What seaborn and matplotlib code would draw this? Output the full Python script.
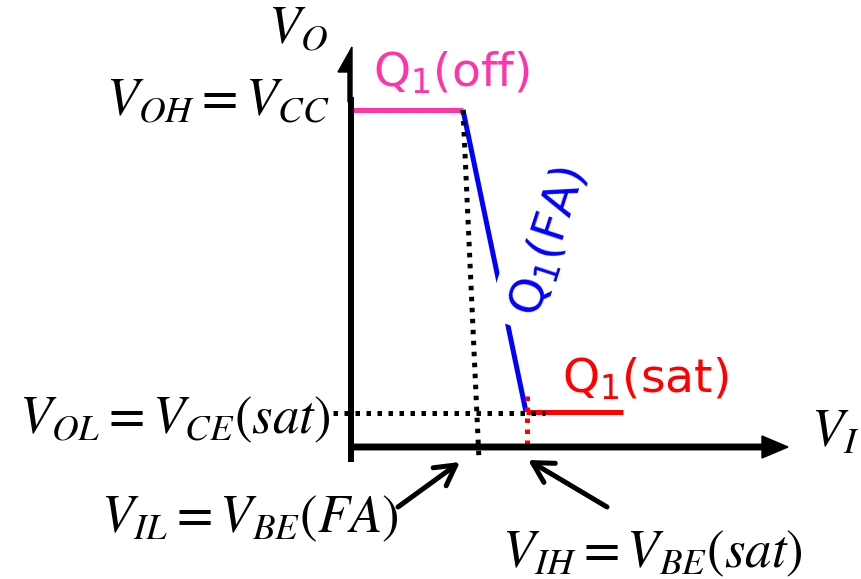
import matplotlib
matplotlib.use("Agg")
import matplotlib.pyplot as plt
import pandas as pd
import seaborn as sns

# Piecewise-linear voltage transfer characteristic (schematic units)
vin_pts = [0.0, 1.11, 1.74, 2.71]
vout_pts = [3.37, 3.37, 0.35, 0.35]
states = ["off", "FA", "sat"]
state_colors = ["#ff33aa", "#0000ff", "#ff0000"]

# Dotted projection guides
vil_guide_x = [1.11, 1.27]
vil_guide_y = [3.37, -0.13]
vol_guide_x = [-0.19, 1.93]
vol_guide_y = [0.34, 0.34]
vih_guide_x = [1.75, 1.75]
vih_guide_y = [0.51, -0.04]

# Label texts
vo_label = r"$V_O$"
vi_label = r"$V_I$"
voh_label = r"$V_{OH}=V_{CC}$"
vol_label = r"$V_{OL}=V_{CE}(sat)$"
vil_label = r"$V_{IL}=V_{BE}(FA)$"
vih_label = r"$V_{IH}=V_{BE}(sat)$"
state_labels = ["Q$_1$(off)", "Q$_1$(FA)", "Q$_1$(sat)"]

sns.set_theme(style="white")
plt.rcParams["font.family"] = ["DejaVu Sans"]

fig = plt.figure(figsize=(8.61, 5.79), dpi=100)
ax = fig.add_axes([0, 0, 1, 1])
ax.set_xlim(-3.52, 5.09)
ax.set_ylim(-1.32, 4.47)
ax.axis("off")

# transfer curve, one coloured segment per transistor state
rows = []
for i, s in enumerate(states):
    rows.append((s, vin_pts[i], vout_pts[i]))
    rows.append((s, vin_pts[i + 1], vout_pts[i + 1]))
df = pd.DataFrame(rows, columns=["state", "vin", "vout"])
sns.lineplot(data=df, x="vin", y="vout", hue="state", hue_order=states,
             palette=state_colors, estimator=None, sort=False, units="state",
             linewidth=3.6, legend=False, ax=ax, solid_capstyle="butt", zorder=3)

# dotted guides
dot_style = dict(linewidth=3.6, dashes=(0.9, 1.3), dash_capstyle="butt", zorder=4)
ax.plot(vil_guide_x, vil_guide_y, color="black", **dot_style)
ax.plot(vol_guide_x, vol_guide_y, color="black", **dot_style)
ax.plot(vih_guide_x, vih_guide_y, color="#ff0000", **dot_style)

# axes with arrowheads
ax.arrow(-0.03, 0.0, 4.39, 0.0, width=0.055, head_width=0.22, head_length=0.26,
         length_includes_head=True, color="black", zorder=5)
ax.plot([-0.015, -0.015], [-0.15, 3.50], color="black", linewidth=4.3,
        solid_capstyle="butt", zorder=5)
ax.arrow(0.0, 3.45, 0.0, 0.55, width=0.08, head_width=0.28, head_length=0.25,
         length_includes_head=True, shape="right", color="black", zorder=5)

math_kw = dict(fontsize=38, math_fontfamily="stix", color="black", va="baseline")
ax.text(-0.84, 4.04, vo_label, ha="left", **math_kw)
ax.text(4.59, 0.0, vi_label, ha="left", **math_kw)
ax.text(-0.22, 3.32, voh_label, ha="right", **math_kw)
ax.text(-3.33, 0.14, vol_label, ha="left", **math_kw)
ax.text(-2.51, -0.85, vil_label, ha="left", **math_kw)
ax.text(1.50, -1.20, vih_label, ha="left", **math_kw)

q_kw = dict(fontsize=34, math_fontfamily="dejavusans")
ax.text(0.21, 3.60, state_labels[0], color=state_colors[0], ha="left",
        va="baseline", zorder=6, **q_kw)
ax.text(2.10, 0.55, state_labels[2], color=state_colors[2], ha="left",
        va="baseline", zorder=6, **q_kw)
ax.text(1.97, 2.05, state_labels[1], color=state_colors[1], ha="center",
        va="center", rotation=72, rotation_mode="anchor", zorder=6,
        bbox=dict(boxstyle="square,pad=0.3", facecolor="white", edgecolor="none"),
        **q_kw)

# annotation arrows pointing at V_IL and V_IH
arrow_kw = dict(arrowstyle="->,head_length=0.72,head_width=0.4", lw=3.6,
                color="black", mutation_scale=20, shrinkA=0, shrinkB=0)
ax.annotate("", xy=(1.08, -0.15), xytext=(0.46, -0.60), arrowprops=arrow_kw)
ax.annotate("", xy=(1.76, -0.13), xytext=(2.55, -0.60), arrowprops=arrow_kw)

fig.savefig("out.png", dpi=100, facecolor="white")
